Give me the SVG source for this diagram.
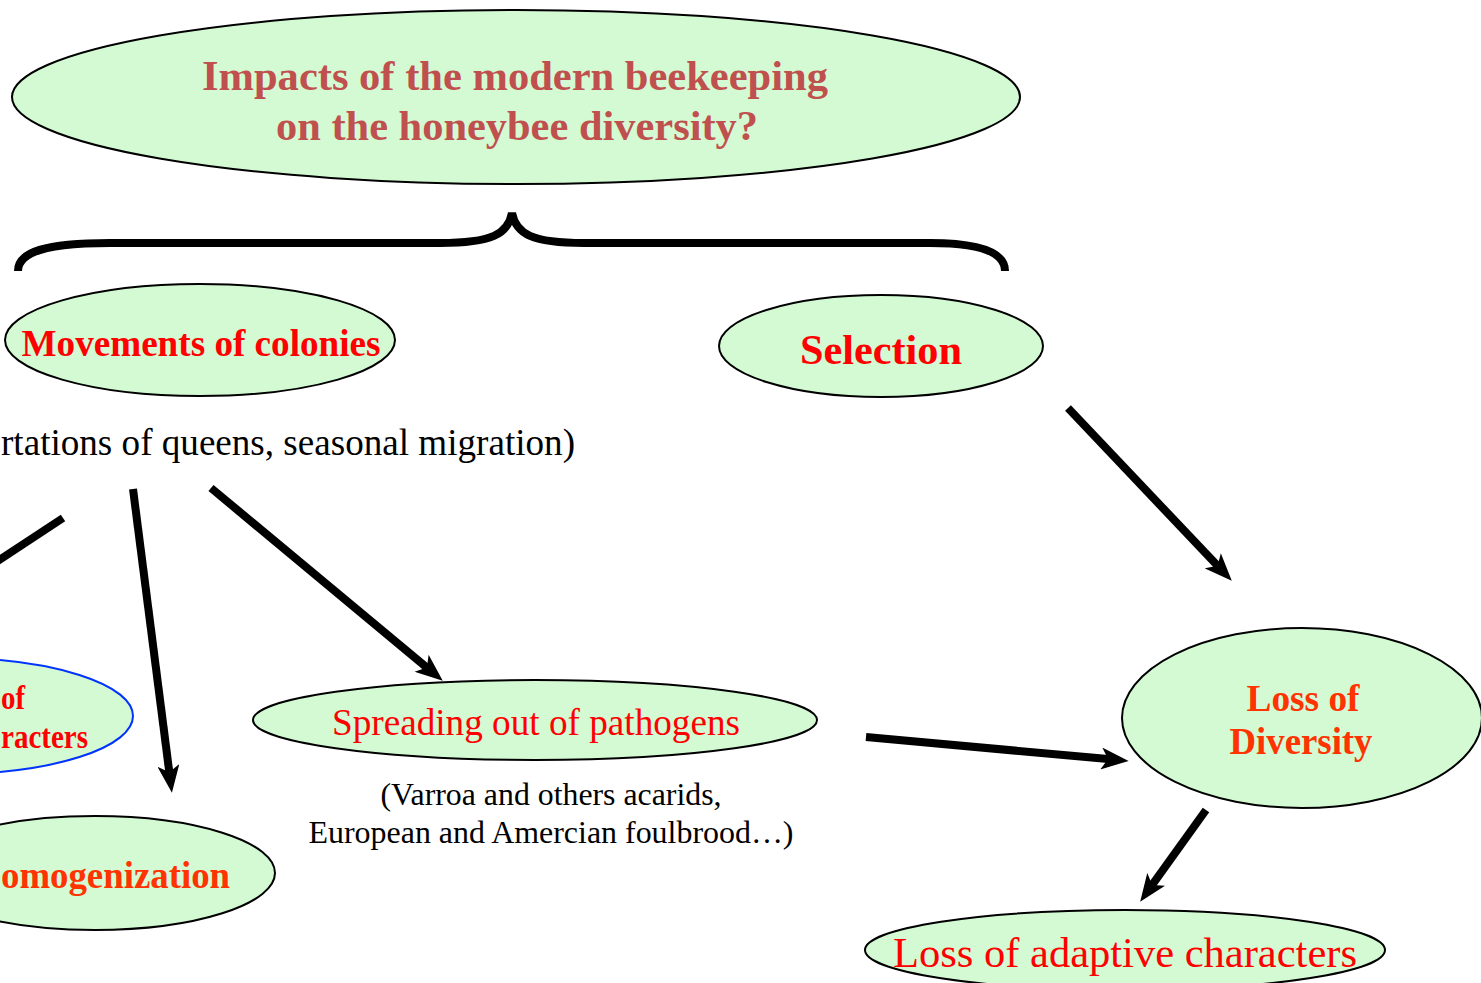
<svg xmlns="http://www.w3.org/2000/svg" width="1481" height="983" viewBox="0 0 1481 983">
<defs>
<style>
.node{fill:#D4FAD4;stroke:#000;stroke-width:2}
.t{font-family:"Liberation Serif","Times New Roman",serif;text-anchor:middle}
.b{font-weight:bold}
.red{fill:#FF0000}
.org{fill:#FF3300}
.title{fill:#C0504D}
.blk{fill:#000}
.conn{stroke:#000;stroke-width:8;fill:none}
</style>
<marker id="ah" viewBox="0 0 20 16" markerUnits="userSpaceOnUse" markerWidth="28" markerHeight="22" refX="5" refY="8" orient="auto">
<path d="M0,0 L20,8 L0,16 L5,8 z" fill="#000"/>
</marker>
</defs>
<rect width="1481" height="983" fill="#fff"/>

<g id="title">
<ellipse class="node" cx="516" cy="97" rx="504" ry="87"/>
<text class="t b title" x="515" y="90" font-size="42" textLength="626" lengthAdjust="spacingAndGlyphs">Impacts of the modern beekeeping</text>
<text class="t b title" x="517" y="140" font-size="42" textLength="482" lengthAdjust="spacingAndGlyphs">on the honeybee diversity?</text>
</g>

<g id="brace">
<path class="conn" d="M18,271 C18,252 45,243 110,243 L440,243 C492,243 508,234 512,213 C516,234 532,243 584,243 L930,243 C980,243 1005,252 1005,271"/>
</g>

<g id="movements">
<ellipse class="node" cx="200" cy="340" rx="195" ry="56"/>
<text class="t b red" x="201" y="356" font-size="37" textLength="359" lengthAdjust="spacingAndGlyphs">Movements of colonies</text>
</g>

<g id="movements-note">
<text class="t blk" x="1" y="455" font-size="37" style="text-anchor:start" textLength="574" lengthAdjust="spacingAndGlyphs">rtations of queens, seasonal migration)</text>
</g>

<g id="selection">
<ellipse class="node" cx="881" cy="346" rx="162" ry="51"/>
<text class="t b red" x="881" y="364" font-size="43" textLength="162" lengthAdjust="spacingAndGlyphs">Selection</text>
</g>

<g id="loss-characters">
<ellipse cx="-50" cy="716" rx="183" ry="58" fill="#D4FAD4" stroke="#0033FF" stroke-width="2"/>
<text class="t b red" x="1" y="709" font-size="34" style="text-anchor:start" textLength="24" lengthAdjust="spacingAndGlyphs">of</text>
<text class="t b red" x="1" y="748" font-size="34" style="text-anchor:start" textLength="87" lengthAdjust="spacingAndGlyphs">racters</text>
</g>

<g id="homogenization">
<ellipse class="node" cx="95" cy="873" rx="180" ry="57"/>
<text class="t b org" x="1" y="888" font-size="37" style="text-anchor:start" textLength="229" lengthAdjust="spacingAndGlyphs">omogenization</text>
</g>

<g id="pathogens">
<ellipse class="node" cx="535" cy="720" rx="282" ry="40"/>
<text class="t red" x="536" y="735" font-size="37" textLength="408" lengthAdjust="spacingAndGlyphs">Spreading out of pathogens</text>
</g>

<g id="pathogens-note">
<text class="t blk" x="551" y="805" font-size="32" textLength="341" lengthAdjust="spacingAndGlyphs">(Varroa and others acarids,</text>
<text class="t blk" x="551" y="843" font-size="32" textLength="485" lengthAdjust="spacingAndGlyphs">European and Amercian foulbrood…)</text>
</g>

<g id="loss-diversity">
<ellipse class="node" cx="1302" cy="718" rx="180" ry="90"/>
<text class="t b org" x="1303" y="711" font-size="38" textLength="113" lengthAdjust="spacingAndGlyphs">Loss of</text>
<text class="t b org" x="1301" y="754" font-size="38" textLength="143" lengthAdjust="spacingAndGlyphs">Diversity</text>
</g>

<g id="loss-adaptive">
<ellipse class="node" cx="1125" cy="950" rx="260" ry="40"/>
<text class="t red" x="1125" y="967" font-size="43" textLength="464" lengthAdjust="spacingAndGlyphs">Loss of adaptive characters</text>
</g>

<g id="connectors">
<line class="conn" x1="63" y1="518" x2="-10" y2="566"/>
<line class="conn" x1="133" y1="489" x2="169.3" y2="772.2" marker-end="url(#ah)"/>
<line class="conn" x1="211" y1="488" x2="426.9" y2="667.6" marker-end="url(#ah)"/>
<line class="conn" x1="1068" y1="408" x2="1217.6" y2="565.8" marker-end="url(#ah)"/>
<line class="conn" x1="866" y1="737" x2="1108.1" y2="759.1" marker-end="url(#ah)"/>
<line class="conn" x1="1206" y1="810" x2="1152.2" y2="884.9" marker-end="url(#ah)"/>
</g>
</svg>
